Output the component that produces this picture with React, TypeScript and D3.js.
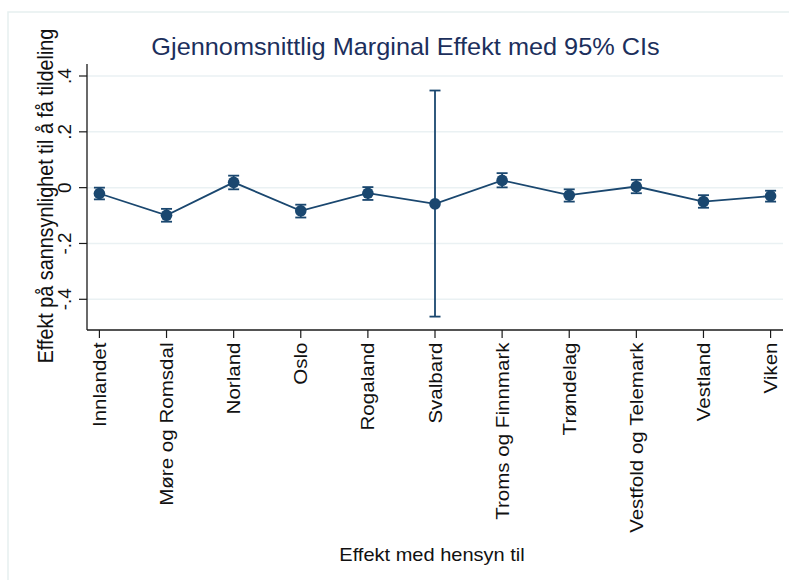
import React from "react";
import * as d3 from "d3";

const categories = [
  "Innlandet",
  "Møre og Romsdal",
  "Norland",
  "Oslo",
  "Rogaland",
  "Svalbard",
  "Troms og Finnmark",
  "Trøndelag",
  "Vestfold og Telemark",
  "Vestland",
  "Viken",
];
const estimates = [-0.021, -0.099, 0.019, -0.083, -0.02, -0.058, 0.026, -0.027, 0.004, -0.05, -0.03];
const lower = [-0.042, -0.122, -0.006, -0.107, -0.044, -0.462, 0.001, -0.05, -0.02, -0.072, -0.05];
const upper = [0.0, -0.076, 0.043, -0.061, 0.002, 0.348, 0.052, -0.006, 0.028, -0.027, -0.011];
const yTicks = [-0.4, -0.2, 0, 0.2, 0.4];
const yTickLabels = ["-.4", "-.2", "0", ".2", ".4"];

const titleText = "Gjennomsnittlig Marginal Effekt med 95% CIs";
const yTitle = "Effekt på sannsynlighet til å få tildeling";
const xTitle = "Effekt med hensyn til";

const W = 789;
const H = 580;
const left = 87;
const right = 783;
const top = 64;
const bottom = 330;
const FONT = "'Liberation Sans', Arial, Helvetica, sans-serif";
const NAVY = "#1a476f";

export default function App() {
  const x = d3.scalePoint<string>().domain(categories).range([left, right]).padding(0.185);
  const y = d3.scaleLinear().domain([-0.51, 0.443]).range([bottom, top]);
  const pts = categories.map((c, i) => ({ c, v: estimates[i], lo: lower[i], hi: upper[i] }));
  const line = d3
    .line<{ c: string; v: number }>()
    .x((d) => x(d.c) as number)
    .y((d) => y(d.v));

  return (
    <svg
      width={W}
      height={H}
      style={{ position: "absolute", left: 0, top: 0, background: "#ffffff" }}
      fontFamily={FONT}
    >
      <rect x={8} y={12} width={W + 10} height={H + 10} fill="#ffffff" stroke="#e6eff0" strokeWidth={1.5} />
      {/* gridlines */}
      {yTicks.map((t) => (
        <line key={"g" + t} x1={left} x2={right} y1={y(t)} y2={y(t)} stroke="#eaf1f3" strokeWidth={1.5} />
      ))}
      {/* axes */}
      <line x1={left} x2={left} y1={top} y2={bottom} stroke="#1a1a1a" strokeWidth={1.3} />
      <line x1={left} x2={right} y1={bottom} y2={bottom} stroke="#1a1a1a" strokeWidth={1.3} />
      {yTicks.map((t, i) => (
        <g key={"yt" + t}>
          <line x1={left - 8} x2={left} y1={y(t)} y2={y(t)} stroke="#1a1a1a" strokeWidth={1.2} />
          <text
            transform={`translate(${left - 16.5},${y(t)}) rotate(-90) scale(1.08,1)`}
            textAnchor="middle"
            fontSize={17.5}
            fill="#111"
          >
            {yTickLabels[i]}
          </text>
        </g>
      ))}
      {categories.map((c) => (
        <g key={"xt" + c}>
          <line x1={x(c)} x2={x(c)} y1={bottom} y2={bottom + 8} stroke="#1a1a1a" strokeWidth={1.2} />
          <text
            transform={`translate(${(x(c) as number) + 6.5},${bottom + 12.5}) rotate(-90) scale(1.175,1)`}
            textAnchor="end"
            fontSize={17.5}
            fill="#111"
          >
            {c}
          </text>
        </g>
      ))}
      {/* axis titles */}
      <text
        transform={`translate(52.5,${(top + bottom) / 2 - 1}) rotate(-90) scale(0.92,1)`}
        textAnchor="middle"
        fontSize={21.5}
        fill="#111"
      >
        {yTitle}
      </text>
      <text transform="translate(432,561) scale(1.1,1)" textAnchor="middle" fontSize={18.2} fill="#111">
        {xTitle}
      </text>
      {/* title */}
      <text transform="translate(405.5,55) scale(1.045,1)" textAnchor="middle" fontSize={24.2} fill="#1c2f5c">
        {titleText}
      </text>
      {/* connecting line */}
      <path d={line(pts) || ""} fill="none" stroke={NAVY} strokeWidth={1.8} />
      {/* CIs */}
      {pts.map((d) => {
        const cx = x(d.c) as number;
        return (
          <g key={"ci" + d.c} stroke={NAVY} strokeWidth={1.8}>
            <line x1={cx} x2={cx} y1={y(d.lo)} y2={y(d.hi)} />
            <line x1={cx - 5.5} x2={cx + 5.5} y1={y(d.lo)} y2={y(d.lo)} />
            <line x1={cx - 5.5} x2={cx + 5.5} y1={y(d.hi)} y2={y(d.hi)} />
          </g>
        );
      })}
      {pts.map((d) => (
        <circle key={"m" + d.c} cx={x(d.c) as number} cy={y(d.v)} r={5.8} fill={NAVY} />
      ))}
    </svg>
  );
}
